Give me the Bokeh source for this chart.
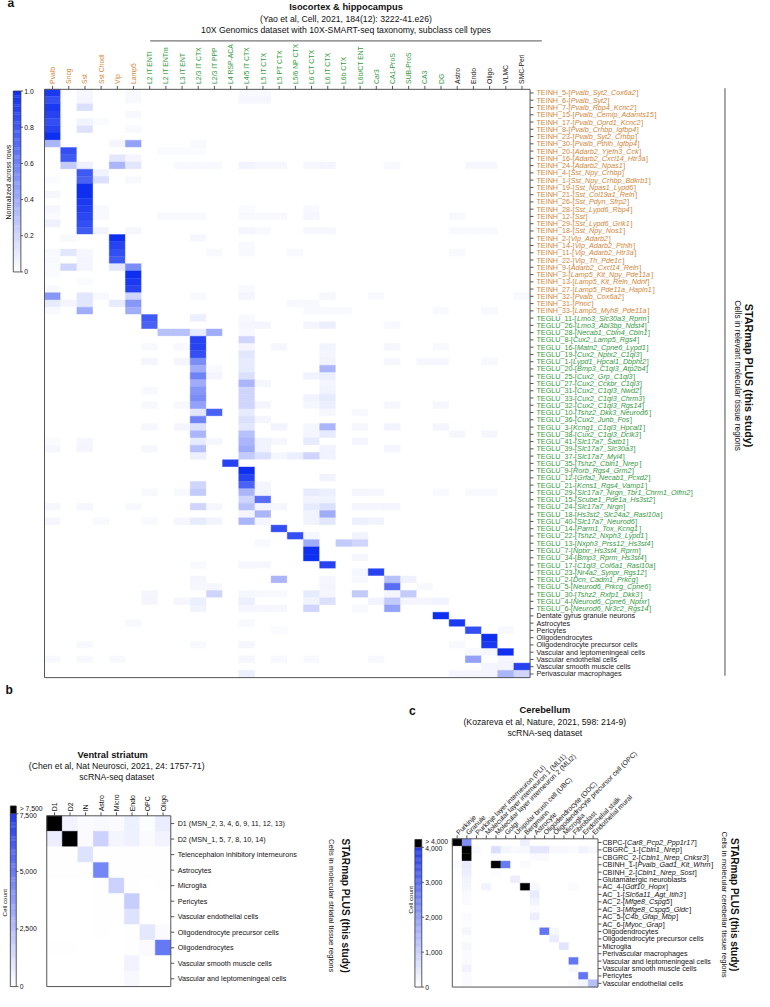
import glob
import math
import numpy as np
from bokeh.plotting import figure
from bokeh.models import Range1d, LinearColorMapper, ColumnDataSource, Label
from bokeh.transform import transform
from bokeh.core.properties import value, field
from bokeh.embed import file_html
from bokeh.resources import INLINE

# ============================ DATA ============================
# ---- panel a ----
A_TITLE = "Isocortex & hippocampus"
A_SUB1 = "(Yao et al, Cell, 2021, 184(12): 3222-41.e26)"
A_SUB2 = "10X Genomics dataset with 10X-SMART-seq taxonomy, subclass cell types"
A_COLUMNS = ["Pvalb", "Sncg", "Sst", "Sst Chodl", "Vip", "Lamp5", "L2 IT ENTl", "L2 IT ENTm",
             "L3 IT ENT", "L2/3 IT CTX", "L2/3 IT PPP", "L4 RSP-ACA", "L4/5 IT CTX", "L5 IT CTX",
             "L5 PT CTX", "L5/6 NP CTX", "L6 CT CTX", "L6 IT CTX", "L6b CTX", "L6b/CT ENT", "Car3",
             "CA1-ProS", "SUB-ProS", "CA3", "DG", "Astro", "Endo", "Oligo", "VLMC", "SMC-Peri"]
A_COLUMN_GROUPS = ["inh"] * 6 + ["glu"] * 19 + ["non"] * 5
A_ROWS = [
    "TEINH_5-[Pvalb_Syt2_Cox6a2]", "TEINH_6-[Pvalb_Syt2]", "TEINH_7-[Pvalb_Rbp4_Kcnc2]",
    "TEINH_15-[Pvalb_Cemip_Adamts15]", "TEINH_17-[Pvalb_Oprd1_Kcnc2]", "TEINH_8-[Pvalb_Crhbp_Igfbp4]",
    "TEINH_23-[Pvalb_Syt2_Crhbp]", "TEINH_30-[Pvalb_Pthlh_Igfbp4]", "TEINH_20-[Adarb2_Yjefn3_Cck]",
    "TEINH_16-[Adarb2_Cxcl14_Htr3a]", "TEINH_24-[Adarb2_Npas1]", "TEINH_4-[Sst_Npy_Crhbp]",
    "TEINH_1-[Sst_Npy_Crhbp_Bdkrb1]", "TEINH_19-[Sst_Npas1_Lypd6]", "TEINH_21-[Sst_Col19a1_Reln]",
    "TEINH_26-[Sst_Pdyn_Sfrp2]", "TEINH_28-[Sst_Lypd6_Rbp4]", "TEINH_12-[Sst]",
    "TEINH_29-[Sst_Lypd6_Grik1]", "TEINH_18-[Sst_Npy_Nos1]", "TEINH_2-[Vip_Adarb2]",
    "TEINH_14-[Vip_Adarb2_Pthlh]", "TEINH_11-[Vip_Adarb2_Htr3a]", "TEINH_22-[Vip_Th_Pde1c]",
    "TEINH_9-[Adarb2_Cxcl14_Reln]", "TEINH_3-[Lamp5_Kit_Npy_Pde11a]", "TEINH_13-[Lamp5_Kit_Reln_Ndnf]",
    "TEINH_27-[Lamp5_Pde11a_Hapln1]", "TEINH_32-[Pvalb_Cox6a2]", "TEINH_31-[Pnoc]",
    "TEINH_33-[Lamp5_Myh8_Pde11a]",
    "TEGLU_11-[Lmo3_Slc30a3_Rprm]", "TEGLU_26-[Lmo3_Abi3bp_Ndst4]", "TEGLU_28-[Necab1_Cbln4_Cbln1]",
    "TEGLU_8-[Cux2_Lamp5_Rgs4]", "TEGLU_16-[Matn2_Cpne6_Lypd1]", "TEGLU_19-[Cux2_Nptx2_C1ql3]",
    "TEGLU_1-[Lypd1_Hpcal1_Dbpht2]", "TEGLU_20-[Bmp3_C1ql3_Atp2b4]", "TEGLU_25-[Cux2_Grp_C1ql3]",
    "TEGLU_27-[Cux2_Cckbr_C1ql3]", "TEGLU_31-[Cux2_C1ql3_Nwd2]", "TEGLU_33-[Cux2_C1ql3_Chrm3]",
    "TEGLU_32-[Cux2_C1ql3_Rgs14]", "TEGLU_10-[Tshz2_Dkk3_Neurod6]", "TEGLU_36-[Cux2_Junb_Fos]",
    "TEGLU_3-[Kcng1_C1ql3_Hpcal1]", "TEGLU_38-[Cux2_C1ql3_Dclk3]", "TEGLU_41-[Slc17a7_Satb1]",
    "TEGLU_39-[Slc17a7_Slc30a3]", "TEGLU_37-[Slc17a7_Myl4]", "TEGLU_35-[Tshz2_Cbln1_Nrep]",
    "TEGLU_9-[Rorb_Rgs4_Grm2]", "TEGLU_12-[Grfa2_Necab1_Pcxd2]", "TEGLU_21-[Kcns1_Rgs4_Vamp1]",
    "TEGLU_29-[Slc17a7_Nrgn_Tbr1_Chrm1_Olfm2]", "TEGLU_15-[Scube1_Pde1a_Hs3st2]",
    "TEGLU_24-[Slc17a7_Nrgn]", "TEGLU_18-[Hs3st2_Slc24a2_Rasl10a]", "TEGLU_40-[Slc17a7_Neurod6]",
    "TEGLU_14-[Parm1_Tox_Kcng1]", "TEGLU_22-[Tshz2_Nxph3_Lypd1]", "TEGLU_13-[Nxph3_Prss12_Hs3st4]",
    "TEGLU_7-[Nptxr_Hs3st4_Rprm]", "TEGLU_34-[Bmp3_Rprm_Hs3st4]", "TEGLU_17-[C1ql3_Col6a1_Rasl10a]",
    "TEGLU_23-[Nr4a2_Synpr_Rgs12]", "TEGLU_2-[Dcn_Cadm1_Prkcg]", "TEGLU_5-[Neurod6_Prkcg_Cpne6]",
    "TEGLU_30-[Tshz2_Rxfp1_Dkk3]", "TEGLU_4-[Neurod6_Cpne6_Nptxr]", "TEGLU_6-[Neurod6_Nr3c2_Rgs14]",
    "Dentate gyrus granule neurons", "Astrocytes", "Pericytes", "Oligodendrocytes",
    "Oligodendrocyte precursor cells", "Vascular and leptomeningeal cells", "Vascular endothelial cells",
    "Vascular smooth muscle cells", "Perivascular macrophages",
]
# normalized values per row: {column index: value}; missing columns are 0
A_VALUES = [
    {0: .95, 2: .04, 5: .03, 12: .03, 13: .03},
    {0: .85, 2: .05, 5: .03, 12: .04, 13: .04},
    {0: .95, 2: .15},
    {0: .9, 5: .03},
    {0: .85, 2: .06, 3: .02},
    {0: .9, 2: .14, 5: .03},
    {0: 1.0},
    {0: .35, 4: .05, 5: .45, 9: .03},
    {1: .85, 7: .02, 8: .02, 9: .02},
    {1: .8, 4: .12, 5: .05},
    {1: .25, 2: .07, 4: .35, 5: .12, 8: .03, 9: .03, 10: .03, 12: .06, 13: .04, 14: .04, 16: .04,
     17: .05, 21: .03, 26: .04, 27: .04},
    {2: .8, 3: .06},
    {0: .02, 2: .75, 3: .15, 5: .03},
    {2: 1.0},
    {0: .04, 2: 1.0},
    {2: .95},
    {0: .04, 2: .92, 3: .03, 12: .02, 16: .03},
    {0: .02, 2: .88, 3: .03, 7: .03, 8: .03, 9: .03, 12: .03, 13: .03, 14: .03, 16: .04, 25: .03},
    {0: .07, 2: .85},
    {2: .8, 3: .06, 5: .04, 12: .05, 13: .03, 16: .04, 17: .04, 25: .03, 26: .03, 27: .03},
    {1: .03, 4: 1.0, 9: .04},
    {4: .9, 12: .03},
    {0: .03, 1: .12, 2: .04, 4: .85, 10: .03, 12: .03, 15: .03, 25: .03},
    {0: .03, 2: .05, 4: .8},
    {0: .02, 1: .2, 2: .05, 4: .12, 5: .55},
    {0: .02, 5: 1.0},
    {2: .02, 5: .95},
    {0: .03, 5: .9, 12: .03},
    {0: .5, 2: .12, 3: .03, 5: .2, 9: .03, 12: .05, 17: .04, 20: .03, 29: .03},
    {0: .1, 1: .05, 2: .12, 4: .1, 5: .5, 15: .03, 16: .03},
    {0: .03, 2: .4, 5: .4, 16: .03, 17: .03, 18: .03, 24: .03, 27: .03},
    {6: .8, 9: .08, 12: .03},
    {6: .75, 12: .04, 13: .05, 16: .05, 17: .08, 21: .03},
    {7: .3, 8: .3, 9: .1, 10: .4, 12: .03},
    {9: .9, 12: .2},
    {6: .03, 8: .03, 9: .9, 12: .05, 14: .04, 17: .06, 21: .04, 24: .03},
    {9: .85, 12: .12, 17: .05},
    {6: .05, 8: .05, 9: .55, 12: .1, 17: .06, 21: .04, 23: .04, 24: .04, 27: .03},
    {9: .4, 10: .03, 12: .1, 17: .35},
    {9: .6, 10: .05, 12: .15, 16: .06, 17: .08},
    {9: .4, 12: .35, 13: .04, 17: .05},
    {6: .03, 9: .5, 12: .2, 17: .06},
    {9: .55, 12: .2, 16: .06, 17: .1},
    {6: .03, 8: .03, 9: .45, 12: .2, 13: .05, 16: .04, 17: .08, 21: .04, 24: .04},
    {9: .12, 10: .75, 12: .1, 17: .04, 19: .03},
    {9: .6, 12: .15, 13: .05},
    {6: .04, 8: .05, 9: .15, 12: .12, 14: .06, 16: .04, 17: .35, 19: .04, 21: .06, 24: .05},
    {9: .35, 12: .3, 16: .05, 17: .1, 25: .04, 27: .04},
    {0: .02, 2: .04, 9: .1, 10: .04, 12: .35, 13: .06, 14: .04, 16: .1, 19: .05},
    {0: .04, 2: .05, 6: .04, 9: .3, 12: .4, 13: .06, 17: .06, 21: .05},
    {9: .08, 12: .25, 13: .15, 14: .04, 15: .08, 16: .2, 17: .06},
    {11: .9},
    {12: 1.0},
    {12: .9, 17: .06},
    {9: .2, 12: .75, 13: .05},
    {6: .03, 8: .03, 9: .25, 12: .35, 13: .05, 16: .1, 17: .08, 19: .05, 20: .04, 24: .03, 26: .03, 27: .03},
    {12: .2, 13: .7, 16: .06, 17: .06},
    {0: .04, 2: .04, 5: .03, 9: .2, 10: .04, 12: .3, 13: .05, 14: .04, 16: .1, 17: .15, 19: .05, 20: .05, 21: .05},
    {12: .05, 13: .35, 16: .06, 17: .4},
    {0: .04, 3: .03, 6: .03, 8: .04, 9: .1, 10: .06, 12: .35, 13: .05, 16: .06, 17: .12, 19: .08, 20: .06},
    {14: .85},
    {15: .85, 16: .04, 19: .06},
    {13: .03, 16: .4, 18: .25, 19: .2},
    {16: 1.0},
    {16: 1.0, 19: .04},
    {9: .03, 12: .04, 13: .04, 17: .9},
    {19: .04, 20: .9},
    {9: .05, 14: .35, 17: .04, 19: .03, 21: .3, 22: .07},
    {9: .04, 10: .04, 17: .05, 21: .7, 23: .03},
    {6: .04, 10: .2, 12: .04, 13: .03, 14: .03, 16: .1, 17: .04, 19: .25, 21: .05, 22: .25},
    {6: .05, 8: .04, 9: .08, 12: .08, 16: .06, 17: .15, 20: .06, 21: .25, 22: .05, 23: .05, 24: .06},
    {9: .06, 12: .05, 13: .04, 14: .04, 16: .2, 19: .03, 21: .45},
    {24: 1.0},
    {5: .03, 12: .03, 25: .95},
    {14: .02, 26: .85, 28: .03},
    {27: 1.0},
    {2: .03, 9: .03, 12: .04, 25: .03, 27: .95},
    {26: .03, 27: .04, 28: 1.0},
    {0: .03, 2: .03, 4: .03, 12: .04, 14: .03, 16: .03, 20: .03, 26: .45, 28: .05},
    {27: .05, 28: .05, 29: .9},
    {12: .08, 25: .05, 26: .05, 27: .05, 28: .35, 29: .2},
]
A_CBAR_TICKS = [0, 0.2, 0.4, 0.6, 0.8, 1.0]
A_CBAR_LABELS = ["0", "0.2", "0.4", "0.6", "0.8", "1.0"]
A_CBAR_TITLE = "Normalized across rows"
A_SIDE = ["STARmap PLUS (this study)", "Cells in relevant molecular tissue regions"]

# ---- panel b ----
B_TITLE = "Ventral striatum"
B_SUB1 = "(Chen et al, Nat Neurosci, 2021, 24: 1757-71)"
B_SUB2 = "scRNA-seq dataset"
B_COLUMNS = ["D1", "D2", "IN", "Astro", "Micro", "Endo", "OPC", "Oligo"]
B_ROWS = ["D1 (MSN_2, 3, 4, 6, 9, 11, 12, 13)", "D2 (MSN_1, 5, 7, 8, 10, 14)",
          "Telencephalon inhibitory interneurons", "Astrocytes", "Microglia", "Pericytes",
          "Vascular endothelial cells", "Oligodendrocyte precursor cells", "Oligodendrocytes",
          "Vascular smooth muscle cells", "Vascular and leptomeningeal cells"]
B_VALUES = [
    [9000, 450, 150, 250, 150, 600, 100, 700],
    [650, 9000, 150, 1700, 400, 550, 150, 450],
    [50, 50, 1100, 50, 30, 50, 30, 30],
    [30, 30, 30, 4600, 50, 50, 30, 50],
    [20, 20, 20, 50, 1700, 50, 20, 30],
    [20, 20, 20, 50, 50, 1900, 20, 20],
    [20, 20, 20, 30, 30, 1100, 20, 20],
    [20, 20, 20, 30, 20, 30, 900, 150],
    [30, 30, 20, 20, 20, 30, 200, 5100],
    [20, 20, 20, 20, 20, 450, 20, 20],
    [20, 20, 20, 20, 20, 250, 20, 20],
]
B_VMAX = 7500
B_CBAR_TICKS = [0, 2500, 5000, 7500]
B_CBAR_LABELS = ["0", "2,500", "5,000", "7,500"]
B_CAP_LABEL = "> 7,500"
B_SIDE = ["STARmap PLUS (this study)", "Cells in molecular striatal tissue regions"]

# ---- panel c ----
C_TITLE = "Cerebellum"
C_SUB1 = "(Kozareva et al, Nature, 2021, 598: 214-9)"
C_SUB2 = "scRNA-seq dataset"
C_COLUMNS = ["Purkinje", "Granule", "Purkinje layer interneuron (PLI)",
             "Molecular layer interneuron 1 (MLI1)", "Molecular layer interneuron 2 (MLI2)", "Golgi",
             "Unipolar brush cell (UBC)", "Bergmann", "Astrocyte", "Oligodendrocyte (ODC)",
             "Oligodendrocyte precursor cell (OPC)", "Microglia", "Fibroblast", "Endothelial stalk",
             "Endothelial mural"]
C_ROWS = ["CBPC-[Car8_Pcp2_Ppp1r17]", "CBGRC_1-[Cbln1_Nrep]", "CBGRC_2-[Cbln1_Nrep_Cnksr3]",
          "CBINH_1-[Pvalb_Gad1_Kit_Whrn]", "CBINH_2-[Cbln1_Nrep_Sost]", "Glutamatergic neuroblasts",
          "AC_4-[Gdf10_Hopx]", "AC_1-[Slc6a11_Agt_Itih3]", "AC_2-[Mfge8_Cspg5]", "AC_3-[Mfge8_Cspg5_Gldc]",
          "AC_5-[C4b_Gfap_Mbp]", "AC_6-[Myoc_Grap]", "Oligodendrocytes", "Oligodendrocyte precursor cells",
          "Microglia", "Perivascular macrophages", "Vascular and leptomeningeal cells",
          "Vascular smooth muscle cells", "Pericytes", "Vascular endothelial cells"]
C_VALUES = [
    {0: 5000, 1: 2300, 2: 30, 3: 30, 7: 300},
    {1: 5000, 2: 120, 4: 650, 5: 200, 6: 120, 7: 150, 8: 500, 9: 500, 10: 150, 11: 150, 12: 100, 13: 250, 14: 150},
    {1: 5000, 4: 80, 8: 100, 9: 100},
    {0: 100, 1: 400, 4: 5000, 5: 2700, 7: 100},
    {0: 50, 1: 350, 4: 50},
    {1: 250, 6: 350},
    {1: 200, 3: 250, 7: 5000, 8: 150, 12: 100},
    {1: 120, 8: 400},
    {1: 80, 8: 250},
    {8: 100},
    {1: 80, 8: 350},
    {1: 60, 8: 60},
    {1: 200, 9: 2800, 10: 150},
    {1: 60, 10: 400},
    {1: 150, 11: 550},
    {1: 100},
    {1: 80, 12: 2800},
    {1: 250, 12: 150},
    {1: 100, 13: 2800},
    {1: 80, 12: 100, 13: 200, 14: 1300},
]
C_VMAX = 4000
C_CBAR_TICKS = [0, 1000, 2000, 3000, 4000]
C_CBAR_LABELS = ["0", "1,000", "2,000", "3,000", "4,000"]
C_CAP_LABEL = "> 4,000"
C_SIDE = ["STARmap PLUS (this study)", "Cells in molecular cerebellar tissue regions"]
CBAR_TITLE_COUNT = "Cell count"

# ============================ STYLE / LAYOUT ============================
W, H = 754, 991
X0, X1, Y0, Y1 = 2.0, 768.0, 4.0, 1008.0
SX = W / (X1 - X0)
FONT = "Liberation Sans"
HAS_NARROW = bool(glob.glob("/usr/share/fonts/**/LiberationSansNarrow-Bold*", recursive=True))
TITLE_FONT = "Liberation Sans Narrow" if HAS_NARROW else FONT
TITLE_SIZE = "11.2px" if HAS_NARROW else "9.3px"
SUB_SIZE = "8.7px"
ROW_SIZE = 7.2
GROUP_COLORS = {"inh": "#D0873A", "glu": "#35993F", "non": "#1a1a1a"}
FRAME = "#555555"

# Helvetica / Arial advance widths (per 1000 em) for placing italic pieces
_W = {' ': 278, '!': 278, '(': 333, ')': 333, ',': 278, '-': 333, '.': 278, '/': 278, ':': 278,
      '[': 278, ']': 278, '_': 556, '&': 667, '>': 584}
for _d in "0123456789":
    _W[_d] = 556
_W.update(dict(zip("ABCDEFGHIJKLMNOPQRSTUVWXYZ",
                   [667, 667, 722, 722, 667, 611, 778, 722, 278, 500, 667, 556, 833, 722, 778, 667,
                    778, 722, 667, 611, 722, 667, 944, 667, 667, 611])))
_W.update(dict(zip("abcdefghijklmnopqrstuvwxyz",
                   [556, 556, 500, 556, 556, 278, 556, 556, 222, 222, 500, 222, 833, 556, 556, 556,
                    556, 333, 500, 278, 556, 500, 722, 500, 500, 500])))


def tw(s, size):
    return sum(_W.get(ch, 556) for ch in s) * size / 1000.0


def ramp(c1, c2, n=256):
    a = np.array([int(c1[i:i + 2], 16) for i in (1, 3, 5)], float)
    b = np.array([int(c2[i:i + 2], 16) for i in (1, 3, 5)], float)
    out = []
    for t in np.linspace(0, 1, n):
        c = a + (b - a) * t
        out.append("#%02x%02x%02x" % tuple(int(round(v)) for v in c))
    return out


p = figure(width=W, height=H, x_range=Range1d(X0, X1), y_range=Range1d(Y1, Y0),
           output_backend="svg", toolbar_location=None, min_border=0,
           x_axis_type=None, y_axis_type=None, title=None)
p.outline_line_color = None
p.background_fill_color = "white"
p.border_fill_color = "white"
extra_x, extra_y = {}, {}


def txt(x, y, s, size, bold=False, align="center", angle=0.0, font=FONT, color="#111111", baseline="middle"):
    p.add_layout(Label(x=x, y=y, text=s, text_font=font, text_font_size=size,
                       text_font_style="bold" if bold else "normal", text_align=align,
                       text_baseline=baseline, angle=angle, text_color=color))


def heatmap(key, columns, rows, matrix, box, mapper):
    L, R, T, B = box
    nc, nr = len(columns), len(rows)
    cw, rh = (R - L) / nc, (B - T) / nr
    extra_x[key + "x"] = Range1d(-(L - X0) / cw, nc + (X1 - R) / cw)
    extra_y[key + "y"] = Range1d(nr + (Y1 - B) / rh, -(T - Y0) / rh)
    p.extra_x_ranges = dict(extra_x)
    p.extra_y_ranges = dict(extra_y)
    xs, ys, vs = [], [], []
    for r, row in enumerate(matrix):
        for c in range(nc):
            xs.append(c + 0.5)
            ys.append(r + 0.5)
            vs.append(row[c])
    src = ColumnDataSource(dict(x=xs, y=ys, v=vs))
    p.rect("x", "y", 1, 1, source=src, fill_color=transform("v", mapper),
           line_color=transform("v", mapper), line_width=0.4,
           x_range_name=key + "x", y_range_name=key + "y")
    p.quad(left=[0], right=[nc], top=[0], bottom=[nr], fill_color=None, line_color=FRAME,
           line_width=1, x_range_name=key + "x", y_range_name=key + "y")
    cx = [c + 0.5 for c in range(nc)]
    p.segment(x0=cx, y0=[T - 3.5] * nc, x1=cx, y1=[T] * nc, line_color=FRAME, line_width=1,
              x_range_name=key + "x")
    ry = [r + 0.5 for r in range(nr)]
    p.segment(x0=[R] * nr, y0=ry, x1=[R + 3.5] * nr, y1=ry, line_color=FRAME, line_width=1,
              y_range_name=key + "y")
    return key + "x", key + "y"


def split_label(s):
    if "[" in s and s.endswith("]"):
        i = s.index("[")
        return s[:i + 1], s[i + 1:-1], "]"
    return s, "", ""


def row_labels(kx, ky, ncols, labels, colors, gap, size):
    n = len(labels)
    pre, gene, suf, xo1, xo2, xo3 = [], [], [], [], [], []
    g = gap * SX
    for lab in labels:
        a, b, c = split_label(lab)
        pre.append(a)
        gene.append(b)
        suf.append(c)
        xo1.append(g)
        xo2.append(g + tw(a, size) + 0.2)
        xo3.append(g + tw(a, size) + tw(b, size) + 0.7)
    src = ColumnDataSource(dict(x=[ncols] * n, y=[i + 0.5 for i in range(n)], a=pre, b=gene, c=suf,
                                o1=xo1, o2=xo2, o3=xo3, col=colors))
    for t, o, style in (("a", "o1", "normal"), ("b", "o2", "italic"), ("c", "o3", "normal")):
        p.text(x="x", y="y", text=t, x_offset=o, source=src, text_color=field("col"),
               text_font=value(FONT), text_font_size="%.2fpx" % size, text_font_style=style,
               text_align="left", text_baseline="middle", x_range_name=kx, y_range_name=ky)


def col_labels(kx, labels, colors, y, size, angle):
    n = len(labels)
    src = ColumnDataSource(dict(x=[c + 0.5 for c in range(n)], y=[y] * n, t=labels, col=colors))
    p.text(x="x", y="y", text="t", source=src, text_color=field("col"), angle=angle,
           text_font=value(FONT), text_font_size="%.2fpx" % size, text_align="left",
           text_baseline="middle", x_range_name=kx)


def colorbar(box, mapper, vmax, ticks, labels, size, cap_top=None, cap_label=None):
    L, R, T, B = box
    N = 160
    h = (B - T) / N
    vals = (np.arange(N) + 0.5) / N * vmax
    bots = B - np.arange(N) * h
    tops = np.maximum(bots - h * 1.3, T)
    src = ColumnDataSource(dict(top=tops, bottom=bots, v=vals))
    p.quad(left=L, right=R, top="top", bottom="bottom", source=src,
           fill_color=transform("v", mapper), line_color=None)
    top_edge = T
    if cap_top is not None:
        p.quad(left=[L], right=[R], top=[cap_top], bottom=[T], fill_color="black", line_color=None)
        top_edge = cap_top
        txt(R + 3.5, (cap_top + T) / 2 - 1.5, cap_label, "%.1fpx" % size, align="left")
    p.quad(left=[L], right=[R], top=[top_edge], bottom=[B], fill_color=None, line_color="#333333",
           line_width=0.8)
    ty = [B - t / vmax * (B - T) for t in ticks]
    p.segment(x0=[R] * len(ty), y0=ty, x1=[R + 2.2] * len(ty), y1=ty, line_color="#333333", line_width=0.8)
    src2 = ColumnDataSource(dict(x=[R + 3.5] * len(ty), y=[yy + (1.5 if cap_top is not None and i == len(ty) - 1 else 0) for i, yy in enumerate(ty)], t=labels))
    p.text(x="x", y="y", text="t", source=src2, text_color="#111111", text_font=value(FONT),
           text_font_size="%.1fpx" % size, text_align="left", text_baseline="middle")


def side_text(x_bold, x_reg, yc, lines, size_b, size_r):
    txt(x_bold, yc, lines[0], "%.1fpx" % size_b, bold=True, angle=-math.pi / 2)
    txt(x_reg, yc, lines[1], "%.1fpx" % size_r, angle=-math.pi / 2)


# ---------------------------- panel a ----------------------------
pal_a = ramp("#ffffff", "#0f2ff0")
map_a = LinearColorMapper(palette=pal_a, low=0, high=1)
A_MATRIX = [[d.get(c, 0.0) for c in range(len(A_COLUMNS))] for d in A_VALUES]
kax, kay = heatmap("a", A_COLUMNS, A_ROWS, A_MATRIX, (46.7, 540.0, 94.0, 690.0), map_a)
a_row_colors = [GROUP_COLORS["inh"] if s.startswith("TEINH") else GROUP_COLORS["glu"]
                if s.startswith("TEGLU") else GROUP_COLORS["non"] for s in A_ROWS]
row_labels(kax, kay, len(A_COLUMNS), A_ROWS, a_row_colors, 6.5, ROW_SIZE)
col_labels(kax, A_COLUMNS, [GROUP_COLORS[g] for g in A_COLUMN_GROUPS], 88.5, 6.8, math.pi / 2)
txt(9, 7, "a", "12px", bold=True, align="left")
txt(353, 11, A_TITLE, TITLE_SIZE, bold=True, font=TITLE_FONT)
txt(353, 23, A_SUB1, SUB_SIZE)
txt(353, 33.5, A_SUB2, SUB_SIZE)
p.segment(x0=[154], y0=[45], x1=[552], y1=[45], line_color="#777777", line_width=1.2)
p.segment(x0=[738], y0=[93], x1=[738], y1=[688], line_color="#777777", line_width=1.3)
side_text(762.5, 751, 384, A_SIDE, 10.8, 8.3)
colorbar((15.0, 22.7, 95.7, 279.0), map_a, 1.0, A_CBAR_TICKS, A_CBAR_LABELS, 6.8)
txt(10.5, 188, A_CBAR_TITLE, "7px", angle=math.pi / 2)

# ---------------------------- panel b ----------------------------
pal_bc = ramp("#ffffff", "#1f3bf0")
map_b = LinearColorMapper(palette=pal_bc, low=0, high=B_VMAX, high_color="black")
kbx, kby = heatmap("b", B_COLUMNS, B_ROWS, B_VALUES, (49.0, 175.0, 830.0, 1003.0), map_b)
row_labels(kbx, kby, len(B_COLUMNS), B_ROWS, ["#111111"] * len(B_ROWS), 7.0, ROW_SIZE)
col_labels(kbx, B_COLUMNS, ["#111111"] * len(B_COLUMNS), 825.5, 7.0, math.pi / 2)
txt(7, 703, "b", "12px", bold=True, align="left")
txt(116, 768, B_TITLE, TITLE_SIZE, bold=True, font=TITLE_FONT)
txt(120, 779.5, B_SUB1, SUB_SIZE)
txt(120, 790.5, B_SUB2, SUB_SIZE)
colorbar((12.0, 18.0, 828.0, 1003.0), map_b, B_VMAX, B_CBAR_TICKS, B_CBAR_LABELS, 6.8,
         cap_top=820.0, cap_label=B_CAP_LABEL)
txt(6, 918, CBAR_TITLE_COUNT, "6.2px", angle=math.pi / 2)
side_text(352, 338.5, 921, B_SIDE, 10.1, 7.6)

# ---------------------------- panel c ----------------------------
map_c = LinearColorMapper(palette=pal_bc, low=0, high=C_VMAX, high_color="black")
C_MATRIX = [[d.get(c, 0) for c in range(len(C_COLUMNS))] for d in C_VALUES]
kcx, kcy = heatmap("c", C_COLUMNS, C_ROWS, C_MATRIX, (461.0, 609.0, 853.3, 1003.5), map_c)
row_labels(kcx, kcy, len(C_COLUMNS), C_ROWS, ["#111111"] * len(C_ROWS), 4.5, ROW_SIZE)
col_labels(kcx, C_COLUMNS, ["#111111"] * len(C_COLUMNS), 848.0, 6.9, math.pi / 4)
txt(417, 724, "c", "12px", bold=True, align="left")
txt(555, 723, C_TITLE, TITLE_SIZE, bold=True, font=TITLE_FONT)
txt(555, 735, C_SUB1, SUB_SIZE)
txt(555, 746, C_SUB2, SUB_SIZE)
colorbar((423.0, 430.0, 862.0, 1003.5), map_c, C_VMAX, C_CBAR_TICKS, C_CBAR_LABELS, 6.8,
         cap_top=854.0, cap_label=C_CAP_LABEL)
txt(419, 915, CBAR_TITLE_COUNT, "6.2px", angle=math.pi / 2)
side_text(748, 738, 920, C_SIDE, 10.0, 7.7)

open("out.html", "w").write(file_html(p, INLINE))
